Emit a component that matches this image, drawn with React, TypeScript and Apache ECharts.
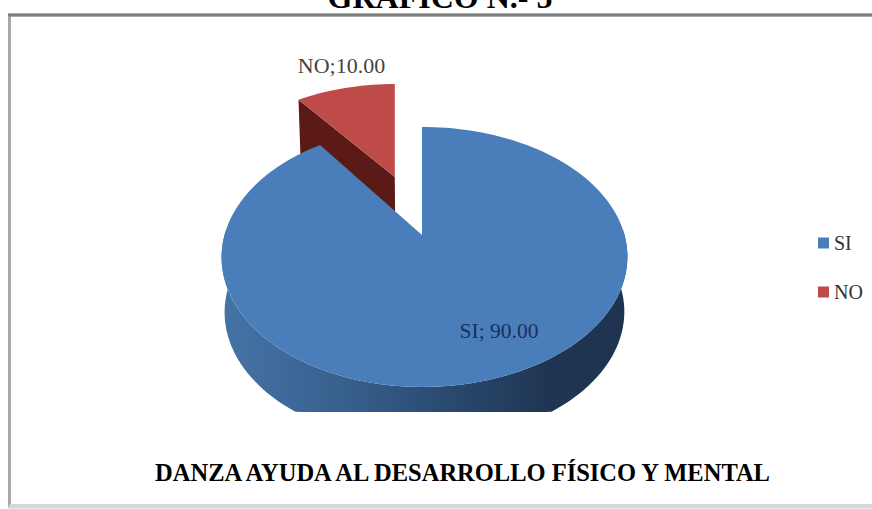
import React, { useEffect, useRef } from "react";
import * as echarts from "echarts";

const categories = ["SI", "NO"];
const values = [90, 10];
const valueLabels = ["SI; 90.00", "NO;10.00"];
const heading = "GRÁFICO N.- 5";
const caption = "DANZA AYUDA AL DESARROLLO FÍSICO Y MENTAL";

const W = 872;
const H = 509;
const SERIF = "'Liberation Serif', 'Times New Roman', serif";

// projective model of the tilted disc
const CX = 422, CY = 235, RX = 200, RY = 126.3, P = 0.169;
const DEPTH = 55, SHRINK = 0.985, CLIP_Y = 412;
const EXPLODE = [0, 0.524];
const EXPLODE_X_SCALE = 0.84;
const SKEW = [2.5, 0];

const total = values.reduce((a, b) => a + b, 0);

function lower(p: [number, number]): [number, number] {
  return [CX + 2.5 + (p[0] - CX - 2.5) * SHRINK, Math.min(p[1] + DEPTH, CLIP_Y)];
}

// angle range of each slice, degrees clockwise from the top
function sliceRange(i: number): [number, number] {
  let a = 0;
  for (let k = 0; k < i; k++) a += (values[k] / total) * 360;
  return [a, a + (values[i] / total) * 360];
}

function sliceGeometry(i: number) {
  const [a0, a1] = sliceRange(i);
  const mid = ((a0 + a1) / 2) * (Math.PI / 180);
  const ox = Math.sin(mid) * EXPLODE[i];
  const oy = Math.cos(mid) * EXPLODE[i];
  const point = (u: number, v: number): [number, number] => {
    const w = 1 + P * (oy + v);
    return [
      CX + RX * ox * EXPLODE_X_SCALE + (RX * u) / w + SKEW[i] * Math.abs(u),
      CY - (RY * (oy + v)) / w,
    ];
  };
  const arc: [number, number][] = [];
  const angles: number[] = [];
  const steps = Math.max(8, Math.round((a1 - a0) / 2));
  for (let s = 0; s <= steps; s++) {
    const deg = a0 + ((a1 - a0) * s) / steps;
    const t = (deg * Math.PI) / 180;
    angles.push(deg);
    arc.push(point(Math.sin(t), Math.cos(t)));
  }
  return { apex: point(0, 0), arc, angles };
}

function renderSI() {
  const { apex, arc, angles } = sliceGeometry(0);
  // wall: the part of the rim that faces the viewer
  const front = arc.filter((_, k) => angles[k] >= 88 && angles[k] <= 272);
  const wall = [...front, ...front.slice().reverse().map(lower)];
  return {
    type: "group",
    children: [
      {
        type: "polygon",
        shape: { points: wall },
        style: {
          fill: new echarts.graphic.LinearGradient(0, 0, 1, 0, [
            { offset: 0, color: "#4673a6" },
            { offset: 0.3, color: "#38608e" },
            { offset: 0.55, color: "#2a4a70" },
            { offset: 0.8, color: "#1f3652" },
            { offset: 1, color: "#1d3350" },
          ]),
        },
      },
      { type: "polygon", shape: { points: [apex, ...arc] }, style: { fill: "#4a7ebb" } },
      {
        type: "text",
        style: {
          x: 499,
          y: 331,
          text: valueLabels[0],
          fill: "#1a2f5c",
          font: `21.5px ${SERIF}`,
          align: "center",
          verticalAlign: "middle",
        },
      },
    ],
  };
}

function renderNO() {
  const { apex, arc } = sliceGeometry(1);
  const corner = arc[0];
  const wall = [corner, apex, lower(apex), lower(corner)];
  return {
    type: "group",
    children: [
      { type: "polygon", shape: { points: wall }, style: { fill: "#5c1a17" } },
      { type: "polygon", shape: { points: [apex, ...arc] }, style: { fill: "#be4b48" } },
      {
        type: "text",
        style: {
          x: 341.5,
          y: 65,
          text: valueLabels[1],
          fill: "#444444",
          font: `22px ${SERIF}`,
          align: "center",
          verticalAlign: "middle",
        },
      },
    ],
  };
}

export default function App() {
  const ref = useRef<HTMLDivElement>(null);
  useEffect(() => {
    document.body.style.margin = "0";
    const chart = echarts.init(ref.current!, null, { renderer: "svg" });
    chart.setOption({
      animation: false,
      backgroundColor: "#ffffff",
      title: [
        {
          text: heading,
          left: 435,
          top: -24,
          textAlign: "center",
          textStyle: { fontFamily: SERIF, fontWeight: "bold", fontSize: 32, color: "#000" },
        },
        {
          text: caption,
          left: 457.5,
          top: 455,
          textAlign: "center",
          textStyle: { fontFamily: SERIF, fontWeight: "bold", fontSize: 24.5, color: "#000" },
        },
      ],
      legend: {
        orient: "vertical",
        left: 813,
        top: 228,
        itemWidth: 11,
        itemHeight: 11,
        itemGap: 29,
        icon: "rect",
        data: categories,
        textStyle: { fontFamily: SERIF, fontSize: 20, color: "#333", padding: [0, 0, 0, 0] },
      },
      graphic: [
        {
          type: "rect",
          silent: true,
          z: -1,
          shape: { x: 9.5, y: 15, width: 880, height: 491 },
          style: { fill: "#ffffff", stroke: "#a8a8a8", lineWidth: 3 },
        },
        {
          type: "line",
          silent: true,
          z: -1,
          shape: { x1: 8, y1: 15, x2: 872, y2: 15 },
          style: { stroke: "#808080", lineWidth: 3 },
        },
        {
          type: "line",
          silent: true,
          z: -1,
          shape: { x1: 9, y1: 506.5, x2: 872, y2: 506.5 },
          style: { stroke: "#d8d8d8", lineWidth: 4 },
        },
      ],
      series: [
        {
          type: "custom",
          name: categories[1],
          coordinateSystem: "none",
          itemStyle: { color: "#be4b48" },
          data: [values[1]],
          renderItem: renderNO,
          z: 2,
        },
        {
          type: "custom",
          name: categories[0],
          coordinateSystem: "none",
          itemStyle: { color: "#4a7ebb" },
          data: [values[0]],
          renderItem: renderSI,
          z: 3,
        },
      ],
    });
    return () => chart.dispose();
  }, []);
  return <div ref={ref} style={{ width: W, height: H }} />;
}
